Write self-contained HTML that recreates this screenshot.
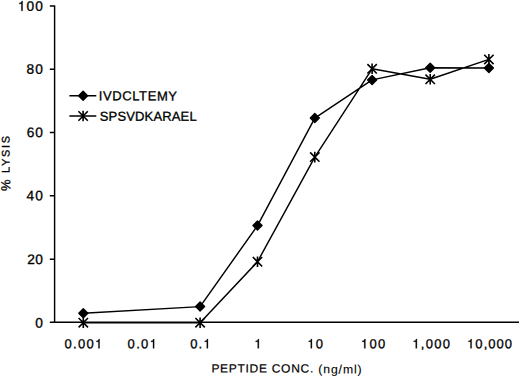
<!DOCTYPE html>
<html><head><meta charset="utf-8"><title>Peptide concentration vs % lysis</title><style>
html,body{margin:0;padding:0;background:#fff;}
body{width:520px;height:377px;overflow:hidden;}
svg{display:block;}
text{font-family:"Liberation Sans", sans-serif;fill:#000;stroke:#000;stroke-width:0.3px;text-rendering:geometricPrecision;}.h{fill:none;stroke:none;}.o{fill:#000;stroke:#000;stroke-width:23.1px;}
</style></head><body>
<svg width="520" height="377" viewBox="0 0 520 377">
<path d="M54.6 5.18L54.6 322.3M49.8 322.3L519 322.3M49.8 5.90L55.33 5.90M49.8 69.20L55.33 69.20M49.8 132.40L55.33 132.40M49.8 195.80L55.33 195.80M49.8 259.30L55.33 259.30" stroke="#000" stroke-width="1.45" fill="none"/>
<g transform="rotate(0.1 30.2 5.9)"><text id="t0" x="17.84" y="10.73" font-size="13.7" letter-spacing="1.16"><tspan class="h">1</tspan>00</text><path transform="translate(17.84 10.73) scale(0.01370 -0.01370)" d="M259 505L102 505L102 568Q204 581 235 604Q266 627 289 709L347 709L347 0L259 0Z" class="o"/></g>
<g transform="rotate(0.1 34.7 68.9)"><text id="t1" x="26.50" y="73.68" font-size="13.7" letter-spacing="1.05">80</text></g>
<g transform="rotate(0.1 34.9 132.3)"><text id="t2" x="26.66" y="137.10" font-size="13.7" letter-spacing="1.03">60</text></g>
<g transform="rotate(0.1 34.8 195.5)"><text id="t3" x="26.54" y="200.28" font-size="13.7" letter-spacing="1.01">40</text></g>
<g transform="rotate(0.1 35.5 259.1)"><text id="t4" x="27.24" y="263.93" font-size="13.7" letter-spacing="0.53">20</text></g>
<g transform="rotate(0.1 39.3 322.7)"><text id="t5" x="35.18" y="327.45" font-size="13.7" letter-spacing="0.80">0</text></g>
<g transform="rotate(0.1 84.1 343.8)"><text id="t6" x="64.57" y="348.30" font-size="13.0" letter-spacing="1.29">0.00<tspan class="h">1</tspan></text><path transform="translate(95.04 348.30) scale(0.01300 -0.01300)" d="M259 505L102 505L102 568Q204 581 235 604Q266 627 289 709L347 709L347 0L259 0Z" class="o"/></g>
<g transform="rotate(0.1 143.2 343.8)"><text id="t7" x="127.62" y="348.30" font-size="13.0" letter-spacing="1.31">0.0<tspan class="h">1</tspan></text><path transform="translate(149.64 348.30) scale(0.01300 -0.01300)" d="M259 505L102 505L102 568Q204 581 235 604Q266 627 289 709L347 709L347 0L259 0Z" class="o"/></g>
<g transform="rotate(0.1 201.9 343.8)"><text id="t8" x="190.23" y="348.30" font-size="13.0" letter-spacing="1.17">0.<tspan class="h">1</tspan></text><path transform="translate(203.42 348.30) scale(0.01300 -0.01300)" d="M259 505L102 505L102 568Q204 581 235 604Q266 627 289 709L347 709L347 0L259 0Z" class="o"/></g>
<g transform="rotate(0.1 258.2 343.8)"><text id="t9" x="254.35" y="348.30" font-size="13.0" letter-spacing="0.80"><tspan class="h">1</tspan></text><path transform="translate(254.35 348.30) scale(0.01300 -0.01300)" d="M259 505L102 505L102 568Q204 581 235 604Q266 627 289 709L347 709L347 0L259 0Z" class="o"/></g>
<g transform="rotate(0.1 315.2 343.8)"><text id="t10" x="307.41" y="348.30" font-size="13.0" letter-spacing="1.03"><tspan class="h">1</tspan>0</text><path transform="translate(307.41 348.30) scale(0.01300 -0.01300)" d="M259 505L102 505L102 568Q204 581 235 604Q266 627 289 709L347 709L347 0L259 0Z" class="o"/></g>
<g transform="rotate(0.1 372.6 343.8)"><text id="t11" x="360.87" y="348.30" font-size="13.0" letter-spacing="1.32"><tspan class="h">1</tspan>00</text><path transform="translate(360.87 348.30) scale(0.01300 -0.01300)" d="M259 505L102 505L102 568Q204 581 235 604Q266 627 289 709L347 709L347 0L259 0Z" class="o"/></g>
<g transform="rotate(0.1 431.9 343.8)"><text id="t12" x="412.38" y="348.30" font-size="13.0" letter-spacing="1.24"><tspan class="h">1</tspan>,000</text><path transform="translate(412.38 348.30) scale(0.01300 -0.01300)" d="M259 505L102 505L102 568Q204 581 235 604Q266 627 289 709L347 709L347 0L259 0Z" class="o"/></g>
<g transform="rotate(0.1 490.5 343.8)"><text id="t13" x="467.11" y="348.30" font-size="13.0" letter-spacing="1.03"><tspan class="h">1</tspan>0,000</text><path transform="translate(467.11 348.30) scale(0.01300 -0.01300)" d="M259 505L102 505L102 568Q204 581 235 604Q266 627 289 709L347 709L347 0L259 0Z" class="o"/></g>
<g transform="rotate(0.1 133.8 95.8)"><text id="t14" x="98.73" y="100.35" font-size="13.0" letter-spacing="0.61">IVDCLTEMY</text></g>
<g transform="rotate(0.1 142.7 116.2)"><text id="t15" x="99.75" y="120.75" font-size="13.0" letter-spacing="0.15">SPSVDKARAEL</text></g>
<g transform="rotate(0.1 258.2 368.3)"><text id="t16" x="211.40" y="372.48" font-size="12.0" letter-spacing="0.71" style="stroke-width:0.2px">PEPTIDE CONC.</text></g>
<g transform="rotate(0.1 343.9 369.2)"><text id="t17" x="318.30" y="373.42" font-size="12.2" letter-spacing="0.90" style="stroke-width:0.12px">(ng/ml)</text></g>
<text transform="translate(9.4 191.1) rotate(-89.95)" font-size="11" letter-spacing="1.72"><tspan font-size="13" dy="0.9">%</tspan><tspan dy="-0.9"> LYSIS</tspan></text>
<path d="M83.30 313.30L200.10 306.60L257.50 225.60L314.80 118.10L372.10 79.90L430.20 67.80L488.90 68.00 M83.30 322.70L200.10 322.70L257.50 261.75L314.80 157.10L372.10 68.80L430.20 79.30L488.90 59.40M69.4 95.7L96.3 95.7M69.4 116L96.3 116" stroke="#000" stroke-width="1.45" fill="none" stroke-linejoin="round"/>
<g fill="#000" stroke="#000" stroke-width="1.4" stroke-linejoin="round"><path d="M83.30 308.80L87.80 313.30L83.30 317.80L78.80 313.30Z"/><path d="M200.10 302.10L204.60 306.60L200.10 311.10L195.60 306.60Z"/><path d="M257.50 221.10L262.00 225.60L257.50 230.10L253.00 225.60Z"/><path d="M314.80 113.60L319.30 118.10L314.80 122.60L310.30 118.10Z"/><path d="M372.10 75.40L376.60 79.90L372.10 84.40L367.60 79.90Z"/><path d="M430.20 63.30L434.70 67.80L430.20 72.30L425.70 67.80Z"/><path d="M488.90 63.50L493.40 68.00L488.90 72.50L484.40 68.00Z"/><path d="M83.10 91.20L87.60 95.70L83.10 100.20L78.60 95.70Z"/></g>
<path d="M78.60 318.00L88.00 327.40M88.00 318.00L78.60 327.40M83.30 317.40L83.30 328.00M195.40 318.00L204.80 327.40M204.80 318.00L195.40 327.40M200.10 317.40L200.10 328.00M252.80 257.05L262.20 266.45M262.20 257.05L252.80 266.45M257.50 256.45L257.50 267.05M310.10 152.40L319.50 161.80M319.50 152.40L310.10 161.80M314.80 151.80L314.80 162.40M367.40 64.10L376.80 73.50M376.80 64.10L367.40 73.50M372.10 63.50L372.10 74.10M425.50 74.60L434.90 84.00M434.90 74.60L425.50 84.00M430.20 74.00L430.20 84.60M484.20 54.70L493.60 64.10M493.60 54.70L484.20 64.10M488.90 54.10L488.90 64.70M78.40 111.30L87.80 120.70M87.80 111.30L78.40 120.70M83.10 110.70L83.10 121.30" stroke="#000" stroke-width="1.6" fill="none"/>
</svg>
</body></html>
